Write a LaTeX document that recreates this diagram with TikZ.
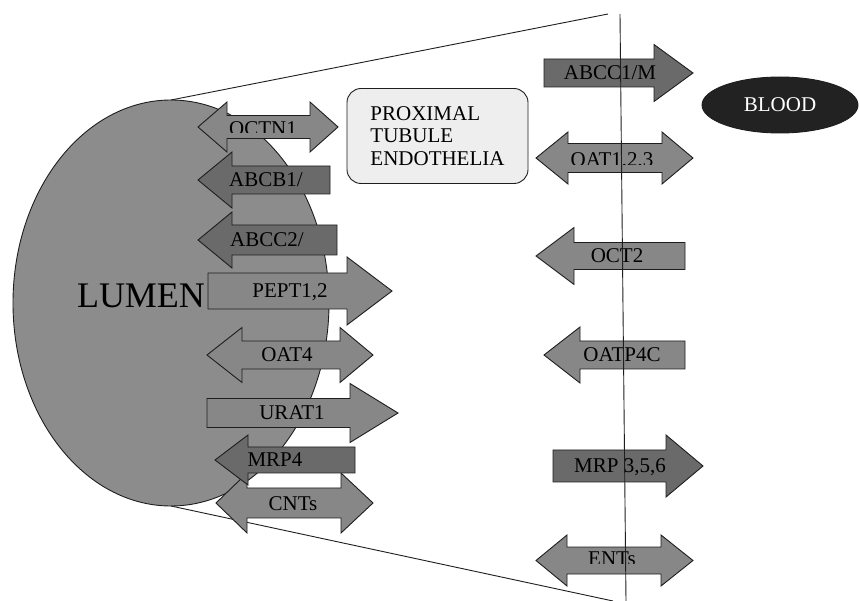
\documentclass[tikz,border=0pt]{standalone}
\usepackage{fontspec}
\setmainfont{Liberation Serif}
\newfontfamily\timesfont{Liberation Serif}
\usepackage{tikz}
\usetikzlibrary{shapes.geometric}
\usepackage{xcolor}
\definecolor{lumengray}{HTML}{8C8C8C}
\definecolor{arrowgray}{HTML}{878787}
\definecolor{darkarrow}{HTML}{6A6A6A}
\definecolor{boxbg}{HTML}{EEEEEE}
\definecolor{bloodfill}{HTML}{222222}
\definecolor{edge}{HTML}{1E1E1E}

\begin{document}
\begin{tikzpicture}[x=1pt,y=-1pt,line width=0.9pt,draw=edge,
  lbl/.style={inner sep=0pt,text height=14pt,text depth=0pt,font=\timesfont\fontsize{21}{24}\selectfont}]
  \useasboundingbox[fill=white] (0,0) rectangle (860,601);
  % lumen, seen in section
  \draw[fill=lumengray] (171,303) ellipse [x radius=158pt, y radius=203pt];
  \node[inner sep=0pt, text height=24pt, text depth=0pt, font=\timesfont\fontsize{36}{40}\selectfont] (lumen) at (141,296) {LUMEN};
  \coordinate (ltop) at (171,100);
  \coordinate (lbot) at (171,506);
  \coordinate (ztop) at (608,14);
  \coordinate (zbot) at (613,601);
  \draw (ltop) -- (ztop);
  \draw (lbot) -- (zbot);
  \node[draw, fill=boxbg, rounded corners=14pt, minimum width=181pt, minimum height=95pt,
    align=left, inner sep=0pt, font=\timesfont\fontsize{21}{22.5}\selectfont] (pte) at (437.5,136) {PROXIMAL\\TUBULE\\ENDOTHELIA};
  \node[ellipse, draw, fill=bloodfill, text=white, minimum width=156pt, minimum height=56pt,
    lbl] (blood) at (780,105) {BLOOD};
  % two-way carriers: tip/base/base/tip/y/half shaft/half head/name/label x/label y/clip y/label
  \foreach \xa/\xb/\xc/\xd/\yc/\sh/\hh/\nm/\lx/\ly/\cy/\lab in {
      198/227/310/338/127/11.5/25/octn/263/129/133/OCTN1,
      536/568/662/693/158/14.5/26/oat/612/160/164.5/{OAT1,2,3},
      207/242/340/373/355/14/27.5/oatf/287/355/369/OAT4,
      216/247/341/373/503/15/30/cnt/293/504/518/CNTs,
      536/567/661/693/560.5/13.5/25.5/ent/612/558.5/563/ENTs}{
    \draw[fill=arrowgray] (\xa,\yc) -- (\xb,\yc-\hh) -- (\xb,\yc-\sh) -- (\xc,\yc-\sh) -- (\xc,\yc-\hh)
      -- (\xd,\yc) -- (\xc,\yc+\hh) -- (\xc,\yc+\sh) -- (\xb,\yc+\sh) -- (\xb,\yc+\hh) -- cycle;
    \begin{scope}
      \clip (\xb,\yc-\sh) rectangle (\xc,\cy);
      \node[lbl] (\nm) at (\lx,\ly) {\lab};
    \end{scope}}
  % one-way carriers: tail/base/tip/y/half shaft/half head/fill/name/label x/label
  \foreach \xt/\xb/\xp/\yc/\sh/\hh/\col/\nm/\lx/\lab in {
      330/232/198/180/14/28/darkarrow/abcb/266/{ABCB1/},
      337/232/198/240/15/28/darkarrow/abcc/267/{ABCC2/},
      208/347/392/291/18/34/arrowgray/pept/290/{PEPT1,2},
      207/350/398/413/14.5/29.5/arrowgray/urat/292/URAT1,
      355/248/215/460/13/25/darkarrow/mrpf/275/MRP4,
      544/654/693/73/14/28.5/darkarrow/abcm/610/{ABCC1/M},
      685/574/536/256/13.5/28.5/arrowgray/oct/617/OCT2,
      685/580/544/355/14/28/arrowgray/oatp/622/OATP4C,
      553/666/703/466/16/31/darkarrow/mrps/620/{MRP 3,5,6}}{
    \draw[fill=\col] (\xt,\yc-\sh) -- (\xb,\yc-\sh) -- (\xb,\yc-\hh) -- (\xp,\yc)
      -- (\xb,\yc+\hh) -- (\xb,\yc+\sh) -- (\xt,\yc+\sh) -- cycle;
    \node[lbl] (\nm) at (\lx,\yc) {\lab};}
  % basolateral membrane
  \coordinate (mtop) at (620,14);
  \coordinate (mbot) at (626,601);
  \draw (mtop) -- (mbot);
\end{tikzpicture}
\end{document}
